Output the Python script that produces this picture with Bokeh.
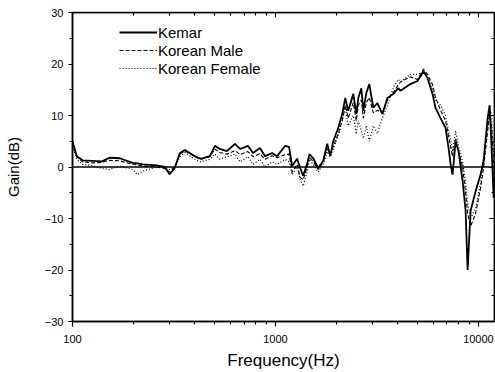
from bokeh.plotting import figure
from bokeh.models import (Range1d, FixedTicker, LogAxis, LinearAxis, Span,
                          ColumnDataSource, PrintfTickFormatter)
from bokeh.embed import file_html
from bokeh.resources import INLINE

freq = [100, 105, 112, 125, 140, 152, 171, 198, 209, 222,
        260, 285, 301, 319, 338, 358, 401, 427, 475, 503,
        532, 577, 632, 669, 732, 775, 839, 888, 962, 1018,
        1115, 1167, 1208, 1279, 1323, 1369, 1432, 1470, 1534, 1624,
        1719, 1799, 1862, 1926, 2039, 2133, 2208, 2284, 2418, 2501,
        2560, 2649, 2710, 2804, 2900, 3036, 3177, 3364, 3560, 3811,
        4034, 4128, 4624, 5009, 5362, 5610, 5939, 6144, 6506, 6886,
        7125, 7289, 7458, 7718, 7986, 8355, 8646, 8845, 9152, 9688,
        10254, 10610, 11102, 11357, 11600, 11886, 12000]

kemar = [5.0, 2.1, 1.3, 1.2, 1.1, 1.8, 1.7, 0.8, 0.7, 0.5,
         0.3, 0.0, -1.4, -0.2, 2.7, 3.3, 2.1, 1.6, 2.1, 4.1,
         3.5, 3.1, 4.5, 3.5, 4.1, 2.7, 3.7, 2.1, 2.7, 2.1,
         4.1, 3.9, 0.2, 1.6, -0.2, -1.7, 0.6, 2.5, 1.7, -0.2,
         1.2, 4.5, 2.1, 5.0, 7.6, 10.3, 13.4, 10.9, 14.2, 10.3,
         13.4, 15.3, 10.9, 14.4, 16.1, 11.5, 12.4, 10.3, 13.4, 14.2,
         15.3, 14.8, 16.1, 16.7, 18.6, 17.3, 14.2, 11.5, 9.5, 7.6,
         3.7, 0.6, -1.5, 5.0, 3.0, -2.7, -8.5, -20.0, -8.5, -4.7,
         -1.4, 1.2, 9.5, 12.0, 4.0, -6.0, -2.0]

korean_male = [4.5, 2.0, 1.0, 0.8, 0.9, 1.3, 1.2, 0.5, 0.4, 0.2,
               0.0, -0.3, -1.0, 0.0, 2.5, 3.1, 2.0, 1.5, 2.0, 3.5,
               2.8, 2.5, 3.2, 2.4, 3.0, 2.0, 2.6, 1.5, 2.2, 1.8,
               2.4, 2.5, -1.0, 0.5, -2.0, -2.5, 0.0, 2.0, 1.0, -0.5,
               1.0, 3.5, 2.5, 4.0, 6.5, 9.0, 12.0, 9.5, 12.5, 9.0,
               12.0, 13.0, 9.5, 12.5, 13.5, 10.5, 11.0, 10.5, 13.0, 14.5,
               16.0, 16.5, 17.5, 17.0, 19.0, 18.0, 16.0, 13.5, 11.0, 9.0,
               6.0, 4.0, 2.0, 5.5, 3.0, 0.0, -5.0, -9.0, -11.5, -9.0,
               -4.0, 0.0, 7.0, 10.0, 8.0, 0.0, -4.0]

korean_female = [4.0, 1.5, 0.5, 0.3, -0.3, -0.5, 0.2, -0.5, -1.5, -0.8,
                 0.0, 0.0, -0.5, 0.0, 2.0, 2.8, 1.5, 1.0, 1.5, 2.5,
                 1.5, 2.0, 2.5, 1.0, 2.0, 0.5, 1.5, 0.0, 1.0, 0.5,
                 1.5, 1.0, -1.5, 0.0, -2.5, -3.7, -1.0, 1.5, 0.5, -1.0,
                 0.5, 3.0, 2.0, 3.5, 6.0, 9.0, 11.5, 8.0, 10.0, 6.4,
                 9.0, 7.0, 5.5, 8.0, 5.0, 8.0, 6.5, 9.5, 12.0, 15.5,
                 17.0, 16.5, 18.0, 18.0, 18.5, 17.5, 15.0, 13.0, 12.0, 10.0,
                 7.0, 5.5, 3.0, 7.0, 4.0, 1.0, -3.0, -7.0, -10.0, -8.0,
                 -3.0, 2.0, 8.0, 12.0, 10.0, 2.0, 0.0]

x_major = [100, 1000, 10000]
x_minor = [200, 300, 400, 500, 600, 700, 800, 900,
           2000, 3000, 4000, 5000, 6000, 7000, 8000, 9000]
y_major = [-30, -20, -10, 0, 10, 20, 30]
y_minor = [-25, -15, -5, 5, 15, 25]

FONT = "Liberation Sans"

p = figure(width=495, height=372, x_axis_type="log",
           x_range=Range1d(100, 12000), y_range=Range1d(-30, 30),
           output_backend="svg", toolbar_location=None,
           min_border_left=72, min_border_right=1, min_border_top=12, min_border_bottom=51)
p.grid.visible = False
p.outline_line_color = "black"
p.outline_line_width = 1.5
p.background_fill_color = "white"
p.border_fill_color = "white"

src = ColumnDataSource(dict(f=freq, k=kemar, m=korean_male, w=korean_female))

p.add_layout(Span(location=0, dimension="width", line_color="black", line_width=1.5))

p.line("f", "w", source=src, line_color="black", line_width=1.2, line_dash="1 2",
       legend_label="Korean Female")
p.line("f", "m", source=src, line_color="black", line_width=1.1, line_dash="4 2",
       legend_label="Korean Male")
p.line("f", "k", source=src, line_color="black", line_width=1.8,
       legend_label="Kemar")

xa = p.xaxis[0]
xa.ticker = FixedTicker(ticks=x_major, minor_ticks=x_minor)
xa.formatter = PrintfTickFormatter(format="%d")
xa.axis_label = "Frequency(Hz)"
xa.axis_label_text_font = FONT
xa.axis_label_text_font_size = "17px"
xa.axis_label_text_font_style = "normal"
xa.axis_label_text_color = "black"
xa.axis_label_standoff = 5
xa.major_label_text_font = FONT
xa.major_label_text_font_size = "11px"
xa.major_label_text_color = "black"
xa.major_label_standoff = 8
xa.major_tick_out = 5
xa.major_tick_in = 0
xa.minor_tick_out = 3
xa.minor_tick_in = 0
xa.axis_line_width = 1.5
xa.major_tick_line_width = 1.2

ya = p.yaxis[0]
ya.ticker = FixedTicker(ticks=y_major, minor_ticks=y_minor)
ya.axis_label = "Gain(dB)"
ya.axis_label_text_font = FONT
ya.axis_label_text_font_size = "15px"
ya.axis_label_text_font_style = "normal"
ya.axis_label_text_color = "black"
ya.axis_label_standoff = 20
ya.major_label_text_font = FONT
ya.major_label_text_font_size = "11px"
ya.major_label_text_color = "black"
ya.major_label_standoff = 5
ya.major_tick_out = 4
ya.major_tick_in = 0
ya.minor_tick_out = 3
ya.minor_tick_in = 0
ya.axis_line_width = 1.5
ya.major_tick_line_width = 1.2

top = LogAxis(ticker=FixedTicker(ticks=x_major, minor_ticks=x_minor),
              fixed_location=30, major_label_text_font_size="1px",
              major_label_text_color=None, major_label_standoff=0,
              major_tick_in=5, major_tick_out=0, minor_tick_in=3, minor_tick_out=0,
              axis_line_width=1.5)
right = LinearAxis(ticker=FixedTicker(ticks=y_major, minor_ticks=y_minor),
                   fixed_location=12000, major_label_text_font_size="1px",
                   major_label_text_color=None, major_label_standoff=0,
                   major_tick_in=5, major_tick_out=0, minor_tick_in=3, minor_tick_out=0,
                   axis_line_width=1.5)
p.add_layout(top, "above")
p.add_layout(right, "right")

lg = p.legend[0]
items = list(lg.items)
lg.items = items[::-1]
lg.location = (47, 244)
lg.label_text_font = FONT
lg.label_text_font_size = "15px"
lg.label_text_color = "black"
lg.glyph_width = 38
lg.glyph_height = 18
lg.label_height = 18
lg.label_standoff = 1
lg.spacing = 0
lg.padding = 0
lg.margin = 0
lg.border_line_color = None
lg.background_fill_alpha = 0

open("out.html", "w").write(file_html(p, INLINE))
